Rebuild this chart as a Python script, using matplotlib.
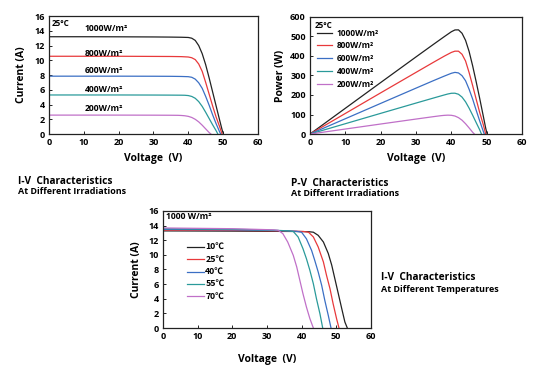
import numpy as np
import matplotlib.pyplot as plt

plt.rcParams['font.family'] = ['Open Sans', 'DejaVu Sans']
plt.rcParams['font.weight'] = 'bold'

colors = ['#222222', '#e8393b', '#3b6fc4', '#2a9a9a', '#c070c8']

# I-V at different irradiations (25°C)
irr_labels = ['1000W/m²', '800W/m²', '600W/m²', '400W/m²', '200W/m²']
irr_v = [
    [0, 10, 20, 30, 35, 38, 40, 41, 42, 43, 44, 45, 46, 47, 48, 49, 49.7, 50.1],
    [0, 10, 20, 30, 35, 38, 40, 41, 42, 43, 44, 45, 46, 47, 48, 49, 49.7],
    [0, 10, 20, 30, 35, 38, 40, 41, 42, 43, 44, 45, 46, 47, 48, 49, 49.3],
    [0, 10, 20, 30, 35, 38, 39, 40, 41, 42, 43, 44, 45, 46, 47, 48, 48.5],
    [0, 10, 20, 30, 35, 37, 38, 39, 40, 41, 42, 43, 44, 45, 46, 46.5],
]
irr_i = [
    [13.2, 13.2, 13.19, 13.17, 13.15, 13.13, 13.1, 13.0, 12.7, 12.0, 10.9, 9.4, 7.6, 5.7, 3.8, 1.9, 0.6, 0],
    [10.55, 10.55, 10.55, 10.53, 10.52, 10.5, 10.45, 10.35, 10.1, 9.5, 8.5, 7.0, 5.4, 3.8, 2.3, 1.0, 0],
    [7.85, 7.85, 7.85, 7.84, 7.83, 7.81, 7.78, 7.7, 7.45, 6.95, 6.2, 5.1, 3.9, 2.6, 1.4, 0.3, 0],
    [5.3, 5.3, 5.3, 5.29, 5.28, 5.27, 5.26, 5.22, 5.1, 4.85, 4.4, 3.75, 2.95, 2.1, 1.25, 0.45, 0],
    [2.57, 2.57, 2.57, 2.56, 2.55, 2.54, 2.52, 2.48, 2.4, 2.25, 2.0, 1.65, 1.2, 0.7, 0.2, 0],
]

# I-V at different temperatures (1000 W/m²)
temp_labels = ['10℃', '25℃', '40℃', '55℃', '70℃']
temp_v = [
    [0, 20, 30, 38, 42, 43.4, 44.8, 46.3, 47.7, 48.7, 49.6, 50.6, 51.6, 52.5, 53.2],
    [0, 20, 30, 36, 40.5, 42.0, 43.4, 44.8, 46.3, 47.2, 48.2, 49.1, 50.1, 50.8],
    [0, 20, 30, 35, 38.5, 40.0, 41.4, 42.9, 43.8, 44.8, 45.8, 46.7, 47.7, 48.5],
    [0, 20, 30, 33, 36.3, 37.6, 39.0, 40.4, 41.4, 42.4, 43.4, 44.3, 45.3, 46.1],
    [0, 20, 30, 32, 33.3, 34.6, 36.0, 37.6, 38.6, 39.5, 40.4, 41.4, 42.4, 43.4],
]
temp_i = [
    [13.28, 13.25, 13.22, 13.2, 13.17, 13.1, 12.67, 11.76, 10.2, 8.6, 6.75, 4.7, 2.64, 0.82, 0],
    [13.38, 13.34, 13.3, 13.26, 13.2, 13.1, 12.45, 11.08, 9.03, 7.2, 5.38, 3.33, 1.28, 0],
    [13.48, 13.42, 13.35, 13.3, 13.22, 13.1, 12.2, 10.6, 9.25, 7.66, 5.84, 3.79, 1.74, 0],
    [13.58, 13.5, 13.4, 13.35, 13.28, 13.2, 12.45, 10.85, 9.48, 7.88, 6.05, 4.0, 1.95, 0],
    [13.68, 13.58, 13.45, 13.42, 13.36, 12.9, 11.76, 9.94, 8.35, 6.52, 4.7, 2.87, 1.28, 0],
]

tick_fs = 6.5
lab_fs = 7.5
txt_fs = 6.2

fig = plt.figure(figsize=(5.33, 3.83), dpi=100)
ax1 = fig.add_axes([0.0919, 0.650, 0.392, 0.308])
ax2 = fig.add_axes([0.5816, 0.650, 0.398, 0.306])
ax3 = fig.add_axes([0.3058, 0.1436, 0.390, 0.3055])


def style(ax):
    ax.tick_params(direction='in', length=2.5, width=0.6, labelsize=tick_fs, pad=3)
    for s in ax.spines.values():
        s.set_linewidth(0.9)
        s.set_color('#222222')
    for t in ax.get_xticklabels() + ax.get_yticklabels():
        t.set_fontweight('bold')


# ── I-V irradiation ──
for v, i, c in zip(irr_v, irr_i, colors):
    ax1.plot(v, i, color=c, lw=0.9)
ax1.set_xlim(0, 60)
ax1.set_ylim(0, 16)
ax1.set_xticks(range(0, 61, 10))
ax1.set_yticks(range(0, 17, 2))
ax1.set_xlabel('Voltage  (V)', fontsize=lab_fs, fontweight='bold', labelpad=4)
ax1.set_ylabel('Current (A)', fontsize=lab_fs, fontweight='bold', labelpad=5)
ax1.text(0.9, 15.0, '25°C', fontsize=5.8, fontweight='bold', va='center')
label_y = [14.3, 10.9, 8.65, 6.1, 3.4]
for lab, y in zip(irr_labels, label_y):
    ax1.text(10.2, y, lab, fontsize=txt_fs, fontweight='bold', va='center')
style(ax1)

# ── P-V irradiation ──
for v, i, c, lab in zip(irr_v, irr_i, colors, irr_labels):
    p = np.array(v) * np.array(i)
    ax2.plot(v, p, color=c, lw=0.9, label=lab)
ax2.set_xlim(0, 60)
ax2.set_ylim(0, 600)
ax2.set_xticks(range(0, 61, 10))
ax2.set_yticks(range(0, 601, 100))
ax2.set_xlabel('Voltage  (V)', fontsize=lab_fs, fontweight='bold', labelpad=4)
ax2.set_ylabel('Power (W)', fontsize=lab_fs, fontweight='bold', labelpad=3)
ax2.text(1.2, 555, '25°C', fontsize=5.8, fontweight='bold', va='center')
ax2.legend(loc='upper left', bbox_to_anchor=(0.035, 0.9), frameon=False,
           handlelength=1.8, handletextpad=0.5, labelspacing=0.45,
           borderaxespad=0.0, borderpad=0.0,
           prop={'weight': 'bold', 'size': 6.0})
style(ax2)

# ── I-V temperature ──
for v, i, c, lab in zip(temp_v, temp_i, colors, temp_labels):
    ax3.plot(v, i, color=c, lw=0.9, label=lab)
ax3.set_xlim(0, 60)
ax3.set_ylim(0, 16)
ax3.set_xticks(range(0, 61, 10))
ax3.set_yticks(range(0, 17, 2))
ax3.set_xlabel('Voltage  (V)', fontsize=lab_fs, fontweight='bold', labelpad=9)
ax3.set_ylabel('Current (A)', fontsize=lab_fs, fontweight='bold', labelpad=5)
ax3.text(0.9, 15.2, '1000 W/m²', fontsize=txt_fs, fontweight='bold', va='center')
ax3.legend(loc='upper left', bbox_to_anchor=(0.115, 0.725), frameon=False,
           handlelength=1.9, handletextpad=0.2, labelspacing=0.38,
           borderaxespad=0.0, borderpad=0.0,
           prop={'weight': 'bold', 'size': 6.3,
                 'family': ['Noto Sans CJK SC', 'DejaVu Sans']})
style(ax3)

# captions
cap1 = 7.3
cap2 = 6.5
fig.text(18 / 533, 1 - 181 / 383, 'I-V  Characteristics', fontsize=cap1,
         fontweight='bold', va='center')
fig.text(18 / 533, 1 - 192 / 383, 'At Different Irradiations', fontsize=cap2,
         fontweight='bold', va='center')
fig.text(291 / 533, 1 - 183 / 383, 'P-V  Characteristics', fontsize=cap1,
         fontweight='bold', va='center')
fig.text(291 / 533, 1 - 194 / 383, 'At Different Irradiations', fontsize=cap2,
         fontweight='bold', va='center')
fig.text(381 / 533, 1 - 277 / 383, 'I-V  Characteristics', fontsize=cap1,
         fontweight='bold', va='center')
fig.text(381 / 533, 1 - 289 / 383, 'At Different Temperatures', fontsize=cap2,
         fontweight='bold', va='center')

fig.savefig('out.png', dpi=100)
